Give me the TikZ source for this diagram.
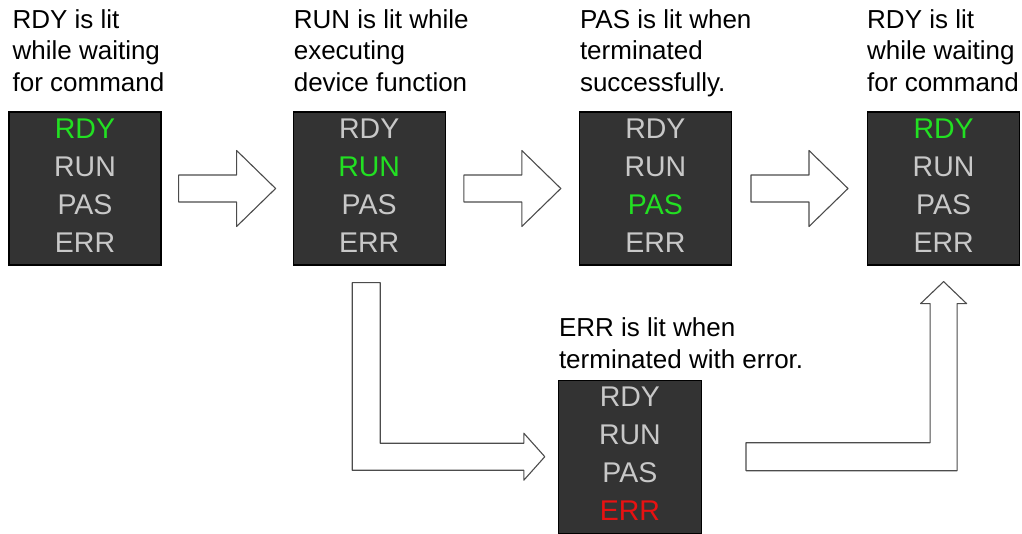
\documentclass[tikz,border=0pt]{standalone}
\usepackage{fontspec}
\setmainfont{Liberation Sans}
\usetikzlibrary{positioning, calc}

\definecolor{paneldark}{HTML}{333333}
\definecolor{ledoff}{HTML}{C8C8C8}
\definecolor{ledgreen}{HTML}{22E022}
\definecolor{ledred}{HTML}{E81212}

\begin{document}
\begin{tikzpicture}[x=1pt, y=-1pt,
  panel/.style={draw=black, fill=paneldark, line width=1.2pt, minimum width=152pt,
                minimum height=153pt, inner sep=0pt, align=center, text=ledoff,
                font=\fontsize{28.5}{38}\selectfont, text depth=6pt},
  caption/.style={anchor=north west, inner sep=0pt, align=left,
                  font=\fontsize{26}{31.5}\selectfont},
  blockarr/.style={draw=black!70, fill=white, line width=1.1pt, line join=round},
]
\useasboundingbox (0,0) rectangle (1022,534);

% Status panels
\node[panel] (rdyA) at (85,188.5)
  {\textcolor{ledgreen}{RDY}\\RUN\\PAS\\ERR};
\node[panel, right=131pt of rdyA] (run)
  {RDY\\\textcolor{ledgreen}{RUN}\\PAS\\ERR};
\node[panel, right=133pt of run] (pas)
  {RDY\\RUN\\\textcolor{ledgreen}{PAS}\\ERR};
\node[panel, right=135pt of pas] (rdyB)
  {\textcolor{ledgreen}{RDY}\\RUN\\PAS\\ERR};
\node[panel, minimum width=143pt, below=114pt of pas, xshift=-25.5pt] (err)
  {RDY\\RUN\\PAS\\\textcolor{ledred}{ERR}};

% Captions
\node[caption] (capA) at ([shift={(4,-102)}]rdyA.north west)
  {RDY is lit\\while waiting\\for command};
\node[caption] (capB) at ([shift={(1,-102)}]run.north west)
  {RUN is lit while\\executing\\device function};
\node[caption] (capC) at ([shift={(1,-102)}]pas.north west)
  {PAS is lit when\\terminated\\successfully.};
\node[caption] (capD) at ([shift={(0,-102)}]rdyB.north west)
  {RDY is lit\\while waiting\\for command};
\node[caption] (capE) at ([shift={(1,-62)}]err.north west)
  {ERR is lit when\\terminated with error.};

% Straight arrows
\coordinate (mAB) at ($(rdyA.east)!0.5!(run.west)$);
\coordinate (mBC) at ($(run.east)!0.5!(pas.west)$);
\coordinate (mCD) at ($(pas.east)!0.5!(rdyB.west)$);
\draw[blockarr] ([shift={(-48.5,-13.5)}]mAB) -- ++(58,0) -- ++(0,-24.5) -- ++(39,38)
  -- ++(-39,38) -- ++(0,-24.5) -- ++(-58,0) -- cycle;
\draw[blockarr] ([shift={(-48.5,-13.5)}]mBC) -- ++(58,0) -- ++(0,-24.5) -- ++(39,38)
  -- ++(-39,38) -- ++(0,-24.5) -- ++(-58,0) -- cycle;
\draw[blockarr] ([shift={(-48.5,-13.5)}]mCD) -- ++(58,0) -- ++(0,-24.5) -- ++(39,38)
  -- ++(-39,38) -- ++(0,-24.5) -- ++(-58,0) -- cycle;

% Error branch
\coordinate (downTop) at ([shift={(-17,17)}]run.south);
\coordinate (downTip) at ([shift={(-13,0)}]err.west);
\draw[blockarr] (downTop) -- ++(28,0) |- ([shift={(-21,-13.5)}]downTip) -- ++(0,-10)
  -- (downTip) -- ++(-21,23.5) -- ++(0,-10) -| (downTop) -- cycle;

% Back to ready
\coordinate (upTail) at ([shift={(44,0)}]err.east);
\coordinate (upTip) at ([shift={(0,16)}]rdyB.south);
\draw[blockarr] ([shift={(0,-14)}]upTail) -| ([shift={(-13.5,22)}]upTip) -- ++(-9.5,0)
  -- (upTip) -- ++(23,22) -- ++(-9.5,0) |- ([shift={(0,14)}]upTail) -- cycle;

\end{tikzpicture}
\end{document}
